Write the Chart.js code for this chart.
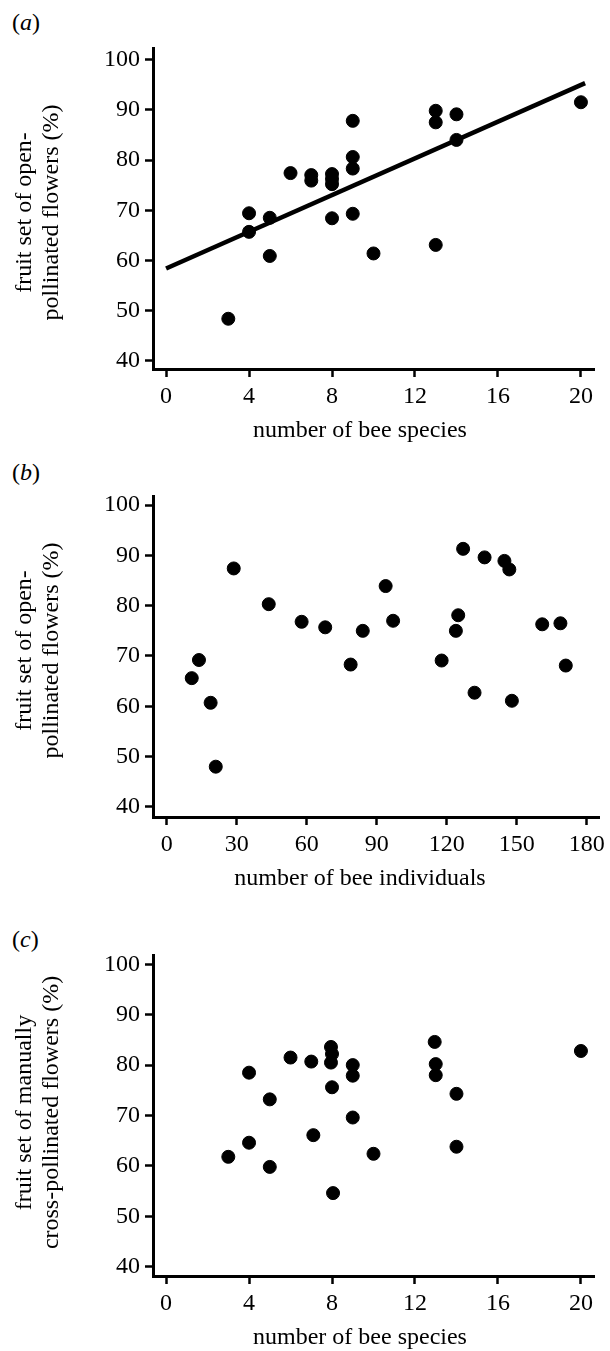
<!DOCTYPE html>
<html>
<head>
<meta charset="utf-8">
<script src="https://cdn.jsdelivr.net/npm/chart.js@4"></script>
<style>
  body { margin: 0; background: #fff; width: 610px; height: 1351px; position: relative; font-family: "Liberation Serif", serif; }
  .panel { position: absolute; left: 0; width: 610px; }
  .tag { position: absolute; left: 12px; font-size: 24px; line-height: 27px; color: #000; }
</style>
</head>
<body>
<div class="tag" style="top:9px">(<i>a</i>)</div>
<div class="tag" style="top:459px">(<i>b</i>)</div>
<div class="tag" style="top:926px">(<i>c</i>)</div>
<div class="panel" style="top:0;height:450px"><canvas id="chartA"></canvas></div>
<div class="panel" style="top:450px;height:450px"><canvas id="chartB"></canvas></div>
<div class="panel" style="top:900px;height:451px"><canvas id="chartC"></canvas></div>
<script>
// (a) open-pollinated fruit set vs number of bee species
const speciesA = [3, 4, 4, 5, 5, 6, 7, 7, 8, 8, 8, 8, 9, 9, 9, 9, 10, 13, 13, 13, 14, 14, 20]
const fruitSetA = [48.4, 69.4, 65.7, 68.5, 60.9, 77.4, 77.0, 75.9, 77.2, 76.2, 75.2, 68.4, 87.8, 80.6, 78.3, 69.3, 61.4, 89.8, 87.5, 63.1, 89.1, 84.0, 91.5]
const fitX = [0, 20.2]
const fitY = [58.4, 95.3]

// (b) open-pollinated fruit set vs number of bee individuals
const individualsB = [10.7, 13.8, 18.8, 21, 28.7, 43.7, 57.8, 67.9, 78.8, 84.0, 93.8, 97.0, 117.8, 123.9, 124.9, 127.0, 131.9, 136.2, 144.7, 146.8, 147.9, 160.9, 168.7, 171.0]
const fruitSetB = [65.6, 69.2, 60.7, 48.0, 87.4, 80.3, 76.8, 75.7, 68.3, 75.0, 83.9, 77.0, 69.1, 75.0, 78.1, 91.3, 62.7, 89.6, 88.9, 87.2, 61.1, 76.3, 76.5, 68.1]

// (c) manually cross-pollinated fruit set vs number of bee species
const speciesC = [3, 4, 4, 5, 5, 6, 7, 7.1, 7.95, 8, 7.95, 8, 8.05, 9, 9, 9, 10, 12.95, 13, 13, 14, 14, 20]
const fruitSetC = [61.8, 78.5, 64.6, 73.2, 59.8, 81.5, 80.7, 66.1, 83.6, 82.2, 80.5, 75.6, 54.6, 80.0, 77.9, 69.6, 62.4, 84.6, 80.2, 78.0, 74.3, 63.8, 82.8]

const yTicks = [40, 50, 60, 70, 80, 90, 100]
const speciesTicks = [0, 4, 8, 12, 16, 20]
const individualTicks = [0, 30, 60, 90, 120, 150, 180]

const FONT = '"Liberation Serif", "Times New Roman", serif'

const toPoints = (xs, ys) => xs.map((x, i) => ({ x: x, y: ys[i] }))

// axis titles drawn by hand so the two-line y title sits where it should
const axisText = {
  id: 'axisText',
  afterDraw(chart, args, opts) {
    const ctx = chart.ctx
    const area = chart.chartArea
    ctx.save()
    ctx.fillStyle = '#000'
    ctx.font = '24px ' + FONT
    ctx.textAlign = 'center'
    ctx.textBaseline = 'middle'
    ctx.fillText(opts.xTitle, 360, area.bottom + 62)
    const midY = (area.top + area.bottom) / 2 + (opts.yShift || 0)
    ctx.translate(0, midY)
    ctx.rotate(-Math.PI / 2)
    ctx.fillText(opts.yTitle[0], 0, 25)
    ctx.fillText(opts.yTitle[1], 0, 52)
    ctx.restore()
  }
}

function makeChart(id, points, xTicks, cfg) {
  const datasets = [{
    data: points,
    backgroundColor: '#000',
    borderColor: '#000',
    pointRadius: 6.5,
    pointHoverRadius: 6.5
  }]
  if (cfg.fit) {
    datasets.push({
      type: 'line',
      data: cfg.fit,
      borderColor: '#000',
      borderWidth: 4.5,
      pointRadius: 0,
      fill: false
    })
  }
  const axisStyle = {
    grid: { drawOnChartArea: false, drawTicks: true, tickLength: 8, tickWidth: 2.5, tickColor: '#000' },
    border: { display: true, color: '#000', width: 3 },
    ticks: { color: '#000', font: { family: FONT, size: 24 }, padding: 5 }
  }
  return new Chart(document.getElementById(id), {
    type: 'scatter',
    data: { datasets: datasets },
    options: {
      responsive: true,
      maintainAspectRatio: false,
      animation: false,
      layout: { padding: { top: cfg.top, right: cfg.right, bottom: 0, left: 0 } },
      plugins: {
        legend: { display: false },
        tooltip: { enabled: false },
        axisText: { xTitle: cfg.xTitle, yTitle: cfg.yTitle, yShift: cfg.yShift }
      },
      scales: {
        x: {
          type: 'linear',
          min: cfg.xMin,
          max: cfg.xMax,
          ...axisStyle,
          afterBuildTicks: s => { s.ticks = xTicks.map(v => ({ value: v })) },
          afterFit: s => { s.height = cfg.xHeight }
        },
        y: {
          type: 'linear',
          min: cfg.yMin,
          max: cfg.yMax,
          ...axisStyle,
          afterBuildTicks: s => { s.ticks = yTicks.map(v => ({ value: v })) },
          afterFit: s => { s.width = 153 }
        }
      }
    },
    plugins: [axisText]
  })
}

makeChart('chartA', toPoints(speciesA, fruitSetA), speciesTicks, {
  fit: toPoints(fitX, fitY),
  top: 48, right: 16, xHeight: 81,
  xMin: -0.63, xMax: 20.63, yMin: 38.4, yMax: 102.3,
  xTitle: 'number of bee species',
  yTitle: ['fruit set of open-', 'pollinated flowers (%)'],
  yShift: 4
})

makeChart('chartB', toPoints(individualsB, fruitSetB), individualTicks, {
  top: 46, right: 7, xHeight: 83,
  xMin: -5.9, xMax: 185.5, yMin: 38.0, yMax: 101.8,
  xTitle: 'number of bee individuals',
  yTitle: ['fruit set of open-', 'pollinated flowers (%)'],
  yShift: -6
})

makeChart('chartC', toPoints(speciesC, fruitSetC), speciesTicks, {
  top: 55, right: 16, xHeight: 75,
  xMin: -0.63, xMax: 20.63, yMin: 38.15, yMax: 101.85,
  xTitle: 'number of bee species',
  yTitle: ['fruit set of manually', 'cross-pollinated flowers (%)'],
  yShift: -3
})
</script>
</body>
</html>
